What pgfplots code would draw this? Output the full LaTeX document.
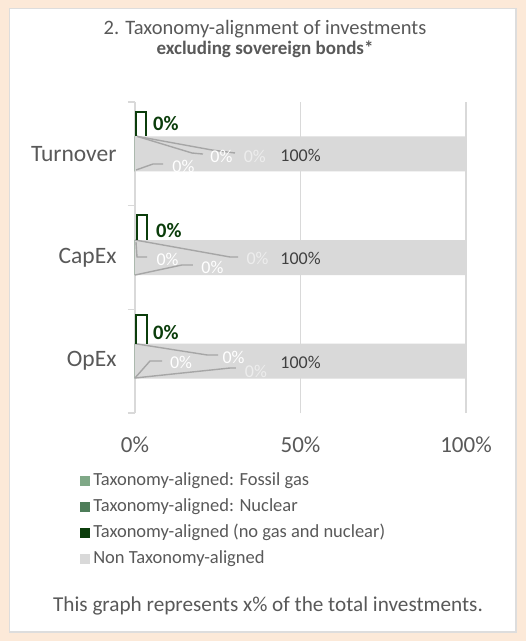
\documentclass[border=0pt]{standalone}
\usepackage{fontspec}
\setmainfont{Carlito}
\usepackage{pgfplots}
\pgfplotsset{compat=1.18}
\definecolor{bg}{HTML}{FCE9D8}
\definecolor{panelborder}{HTML}{DDDDDD}
\definecolor{txt}{HTML}{595959}
\definecolor{gas}{HTML}{7FA887}
\definecolor{nuc}{HTML}{4E7D59}
\definecolor{algn}{HTML}{0B3D0B}
\definecolor{nonal}{HTML}{D9D9D9}
\definecolor{gridc}{HTML}{D9D9D9}
\definecolor{leader}{HTML}{A6A6A6}
\definecolor{lbldark}{HTML}{404040}
\definecolor{lbllight}{HTML}{EDEDED}
\tikzset{ld/.style={draw=leader, line width=1.4pt},
  gb/.style={draw=algn, line width=2pt},
  dl/.style={font=\fontsize{18}{21}\selectfont, inner sep=0pt},
  gl/.style={text=algn, font=\fontsize{20.5}{24}\selectfont\bfseries, anchor=west, inner sep=0pt}}
\begin{document}
\begin{tikzpicture}[x=1pt,y=1pt]
\useasboundingbox (0,0) rectangle (526,-641);
\fill[bg] (0,0) rectangle (526,-641);
\filldraw[fill=white, draw=panelborder, line width=1.5pt] (9.5,-8.5) rectangle (516,-632);
\node[text=txt, font=\fontsize{20.5}{24}\selectfont, anchor=base, inner sep=0pt] at (265,-34) {2. Taxonomy-alignment of investments};
\node[text=txt, font=\fontsize{19}{22}\selectfont\bfseries, anchor=base, inner sep=0pt] at (265,-54) {excluding sovereign bonds*};
\begin{axis}[
  at={(135pt,-413pt)}, anchor=south west,
  width=331pt, height=311pt, scale only axis,
  xmin=0, xmax=100, ymin=-0.5, ymax=2.5,
  xtick={0,50,100}, xticklabels={0\%,50\%,100\%},
  ytick={0,1,2}, yticklabels={OpEx,CapEx,Turnover},
  minor ytick={-0.5,0.5,1.5,2.5},
  major tick length=0pt, minor tick length=7pt, tick align=outside,
  axis lines*=left, axis line style={draw=none},
  xmajorgrids, grid style={draw=gridc, line width=1.3pt},
  minor tick style={draw=gridc, line width=1.3pt},
  ticklabel style={text=txt},
  yticklabel style={font=\fontsize{23.5}{28}\selectfont, xshift=-15pt},
  xticklabel style={font=\fontsize{23}{27}\selectfont, anchor=base, yshift=-39pt},
  legend style={at={(axis description cs:-0.166,-0.177)}, anchor=north west,
    draw=none, fill=none, inner sep=0pt, font=\fontsize{18.5}{22}\selectfont, text=txt,
    nodes={text height=14pt, text depth=6pt, inner sep=3pt}},
  legend cell align=left,
  legend image code/.code={\fill[#1] (0pt,-5pt) rectangle (10pt,5pt);},
  clip=false,
]
\addplot[xbar, bar width=35pt, bar shift=0pt, fill=gas, draw=none] coordinates {(0,2) (0,1) (0,0)};
\addlegendentry{Taxonomy-aligned: Fossil gas}
\addplot[xbar, bar width=35pt, bar shift=0pt, fill=nuc, draw=none] coordinates {(0,2) (0,1) (0,0)};
\addlegendentry{Taxonomy-aligned: Nuclear}
\addplot[xbar, bar width=35pt, bar shift=0pt, fill=algn, draw=none] coordinates {(0,2) (0,1) (0,0)};
\addlegendentry{Taxonomy-aligned (no gas and nuclear)}
\addplot[xbar, bar width=35pt, bar shift=0pt, fill=nonal, draw=none] coordinates {(100,2) (100,1) (100,0)};
\addlegendentry{Non Taxonomy-aligned}

% Turnover leaders
\draw[ld] (axis cs:0.6,2.169) -- (axis cs:17.22,2.008) -- (axis cs:20.54,1.998);
\draw[ld] (axis cs:0.6,2.169) -- (axis cs:23.26,2.037) -- (axis cs:30.21,2.008);
\draw[ld] (axis cs:0.3,1.844) -- (axis cs:5.44,1.902) -- (axis cs:8.46,1.902);
% CapEx leaders
\draw[ld] (axis cs:0.0,1.169) -- (axis cs:28.70,1.005) -- (axis cs:31.12,1.005);
\draw[ld] (axis cs:0.3,1.150) -- (axis cs:0.6,1.005) -- (axis cs:3.63,1.005);
\draw[ld] (axis cs:0.0,0.831) -- (axis cs:14.20,0.928) -- (axis cs:17.52,0.928);
% OpEx leaders
\draw[ld] (axis cs:0.0,0.169) -- (axis cs:21.75,0.060) -- (axis cs:25.08,0.060);
\draw[ld] (axis cs:0.0,-0.162) -- (axis cs:4.53,0.002) -- (axis cs:8.16,0.002);
\draw[ld] (axis cs:0.0,-0.162) -- (axis cs:28.70,-0.066) -- (axis cs:30.51,-0.066);
% green label boxes
\draw[gb] (axis cs:0.3,2.169) -- (axis cs:0.3,2.404) -- (axis cs:3.33,2.404) -- (axis cs:3.33,2.169);
\draw[gb] (axis cs:0.6,1.169) -- (axis cs:0.6,1.410) -- (axis cs:3.63,1.410) -- (axis cs:3.63,1.169);
\draw[gb] (axis cs:0.3,0.169) -- (axis cs:0.3,0.445) -- (axis cs:3.63,0.445) -- (axis cs:3.63,0.169);
\node[gl] at (axis cs:5.44,2.297) {0\%};
\node[gl] at (axis cs:6.34,1.265) {0\%};
\node[gl] at (axis cs:5.44,0.281) {0\%};
% Turnover labels
\node[dl, text=white] at (axis cs:26.1,1.979) {0\%};
\node[dl, text=lbllight] at (axis cs:36.2,1.979) {0\%};
\node[dl, text=white] at (axis cs:14.65,1.883) {0\%};
\node[dl, text=lbldark] at (axis cs:50,1.985) {100\%};
% CapEx labels
\node[dl, text=lbllight] at (axis cs:37.01,0.995) {0\%};
\node[dl, text=white] at (axis cs:9.82,0.986) {0\%};
\node[dl, text=white] at (axis cs:23.41,0.908) {0\%};
\node[dl, text=lbldark] at (axis cs:50,0.995) {100\%};
% OpEx labels
\node[dl, text=white] at (axis cs:29.76,0.040) {0\%};
\node[dl, text=white] at (axis cs:13.90,-0.008) {0\%};
\node[dl, text=lbllight] at (axis cs:36.55,-0.095) {0\%};
\node[dl, text=lbldark] at (axis cs:50,-0.01) {100\%};
\end{axis}
\node[text=txt, font=\fontsize{21.2}{25}\selectfont, anchor=base, inner sep=0pt] at (268,-611) {This graph represents x\% of the total investments.};
\end{tikzpicture}
\end{document}
